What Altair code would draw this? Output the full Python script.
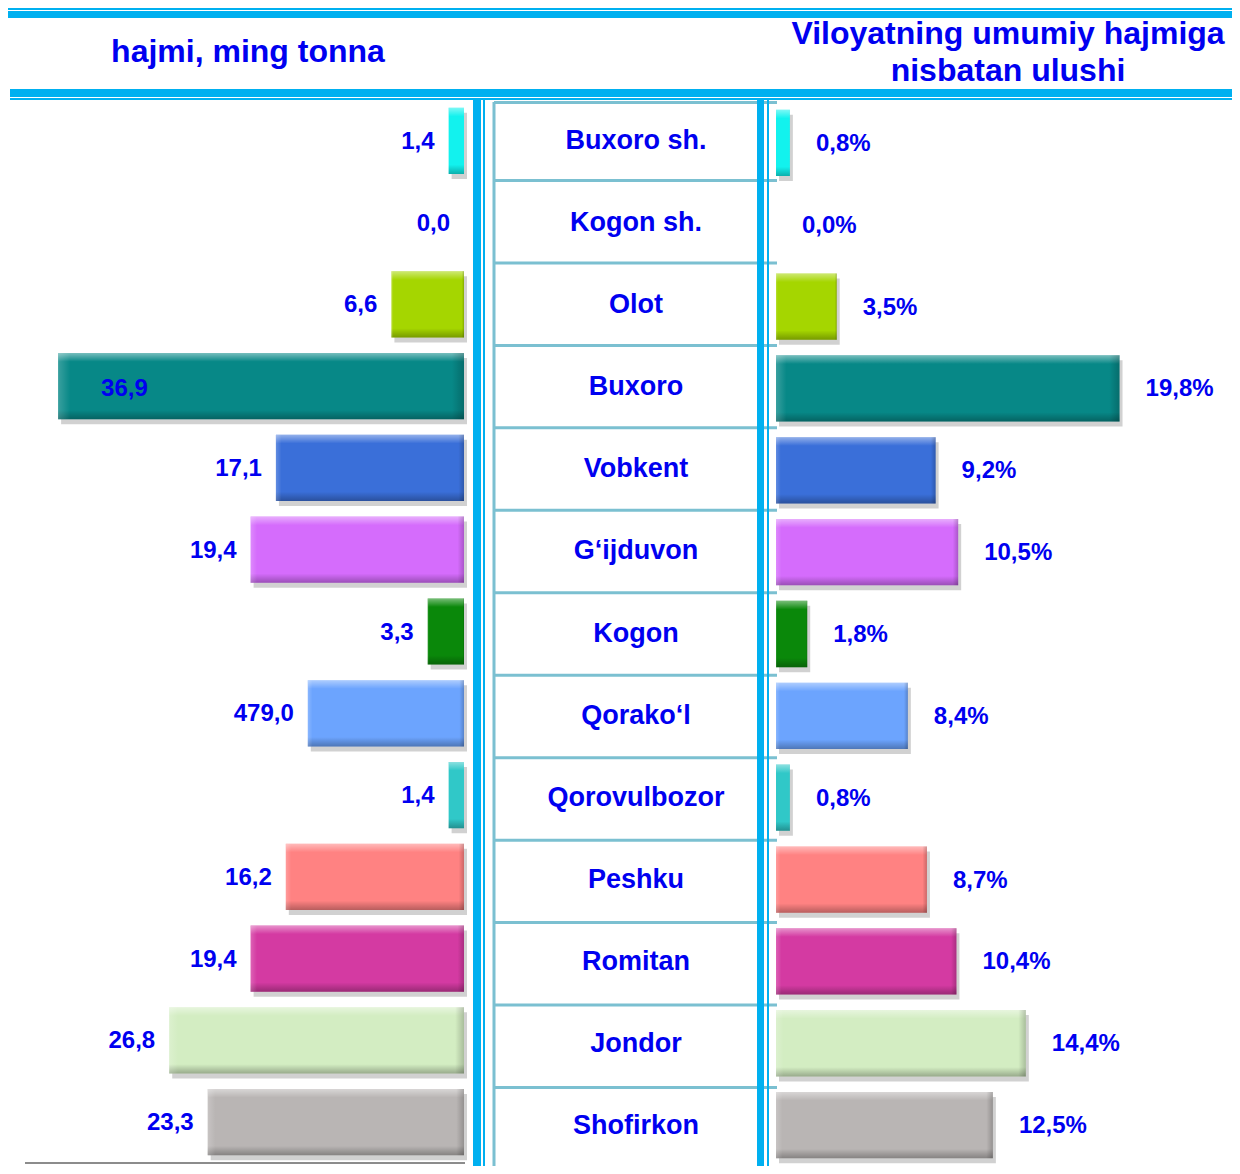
import altair as alt
import pandas as pd

# ---------------- data ----------------
districts = ["Buxoro sh.", "Kogon sh.", "Olot", "Buxoro", "Vobkent", "G‘ijduvon", "Kogon",
             "Qorako‘l", "Qorovulbozor", "Peshku", "Romitan", "Jondor", "Shofirkon"]
volume_values = [1.4, 0.0, 6.6, 36.9, 17.1, 19.4, 3.3, 14.2, 1.4, 16.2, 19.4, 26.8, 23.3]
volume_labels = ["1,4", "0,0", "6,6", "36,9", "17,1", "19,4", "3,3", "479,0", "1,4",
                 "16,2", "19,4", "26,8", "23,3"]
share_values = [0.8, 0.0, 3.5, 19.8, 9.2, 10.5, 1.8, 7.6, 0.8, 8.7, 10.4, 14.4, 12.5]
share_labels = ["0,8%", "0,0%", "3,5%", "19,8%", "9,2%", "10,5%", "1,8%", "8,4%", "0,8%",
                "8,7%", "10,4%", "14,4%", "12,5%"]
bar_colors = ["#12F2EE", "#12F2EE", "#A5D600", "#078887", "#3A6FD9", "#D56CFC", "#0A880A",
              "#6CA4FE", "#30C8C8", "#FF8282", "#D43AA2", "#D3EDC2", "#B9B5B4"]
left_title = "hajmi, ming tonna"
right_title = ["Viloyatning umumiy hajmiga", "nisbatan ulushi"]

df = pd.DataFrame({
    "district": districts,
    "vol": volume_values,
    "vol_label": volume_labels,
    "share": share_values,
    "share_label": share_labels,
    "idx": list(range(len(districts))),
})
df["mid"] = df["idx"] + 0.5
df["inside"] = df["vol"] > 30
bounds = pd.DataFrame({"b": list(range(1, len(districts) + 1))})
dummy = pd.DataFrame({"k": [0]})

W, H = 1224, 1158
FONT = "Liberation Sans"
BLUE_TXT = "#0000F0"
LINE = "#00B0F0"
GRID = "#7BC0D1"

yl = alt.Scale(domain=districts, range=[92, 1155], paddingInner=0.19, paddingOuter=0.095)
yr = alt.Scale(domain=districts, range=[94, 1158], paddingInner=0.19, paddingOuter=0.095)
xl = alt.Scale(domain=[0, 40], range=[456, 16], nice=False, zero=True)
xr = alt.Scale(domain=[0, 20], range=[768, 1115], nice=False, zero=True)
ym = alt.Scale(domain=[0, len(districts)], range=[90, 1162], nice=False, zero=False)
ymt = alt.Scale(domain=[0, len(districts)], range=[92, 1159], nice=False, zero=False)
col = alt.Color("district:N", scale=alt.Scale(domain=districts, range=bar_colors), legend=None)

vgrad = alt.Gradient(gradient="linear", x1=0, x2=0, y1=0, y2=1, stops=[
    alt.GradientStop(color="rgba(255,255,255,0.45)", offset=0),
    alt.GradientStop(color="rgba(255,255,255,0)", offset=0.13),
    alt.GradientStop(color="rgba(0,0,0,0)", offset=0.86),
    alt.GradientStop(color="rgba(0,0,0,0.28)", offset=1),
])
hgrad = alt.Gradient(gradient="linear", x1=0, x2=1, y1=0, y2=0, stops=[
    alt.GradientStop(color="rgba(255,255,255,0.2)", offset=0),
    alt.GradientStop(color="rgba(255,255,255,0)", offset=0.03),
    alt.GradientStop(color="rgba(0,0,0,0)", offset=0.97),
    alt.GradientStop(color="rgba(0,0,0,0.2)", offset=1),
])

base = alt.Chart(df)


def bars(field, xs, ys):
    enc = dict(x=alt.X(f"{field}:Q", scale=xs, axis=None), x2=alt.datum(0),
               y=alt.Y("district:N", scale=ys, axis=None))
    shadow = base.mark_bar(color="#000000", opacity=0.18, xOffset=3, x2Offset=3, yOffset=5).encode(**enc)
    main = base.mark_bar().encode(color=col, **enc)
    g1 = base.mark_bar(color=vgrad).encode(**enc)
    g2 = base.mark_bar(color=hgrad).encode(**enc)
    return [shadow, main, g1, g2]


left_bars = bars("vol", xl, yl)
right_bars = bars("share", xr, yr)

lbl_kw = dict(font=FONT, fontWeight="bold", fontSize=24, color=BLUE_TXT, baseline="middle")
left_out = base.transform_filter("!datum.inside").mark_text(align="right", dx=-14, dy=1, **lbl_kw).encode(
    x=alt.X("vol:Q", scale=xl, axis=None), y=alt.Y("district:N", scale=yl, axis=None), text="vol_label:N")
left_in = base.transform_filter("datum.inside").mark_text(align="left", dx=43, dy=3, **lbl_kw).encode(
    x=alt.X("vol:Q", scale=xl, axis=None), y=alt.Y("district:N", scale=yl, axis=None), text="vol_label:N")
right_lbl = base.mark_text(align="left", dx=26, dy=1, **lbl_kw).encode(
    x=alt.X("share:Q", scale=xr, axis=None), y=alt.Y("district:N", scale=yr, axis=None), text="share_label:N")

# middle table
rows = alt.Chart(bounds).mark_rule(color=GRID, strokeWidth=3).encode(
    x=alt.value(486), x2=alt.value(769), y=alt.Y("b:Q", scale=ym, axis=None))
box_top = alt.Chart(dummy).mark_rule(color=GRID, strokeWidth=3).encode(
    x=alt.value(486), x2=alt.value(769), y=alt.value(94.5))
box_left = alt.Chart(dummy).mark_rule(color=GRID, strokeWidth=3).encode(
    x=alt.value(486), y=alt.value(94), y2=alt.value(H))
mid_text = base.mark_text(font=FONT, fontWeight="bold", fontSize=27, color=BLUE_TXT,
                          baseline="middle").encode(
    x=alt.value(628), y=alt.Y("mid:Q", scale=ymt, axis=None), text="district:N")


def rect(x1, x2, y1, y2, color):
    return alt.Chart(dummy).mark_rect(color=color).encode(
        x=alt.value(x1), x2=alt.value(x2), y=alt.value(y1), y2=alt.value(y2))


decor = [
    rect(0, W, 0, 2, LINE), rect(0, W, 3, 10, LINE),          # top lines
    rect(2, W, 81, 89, LINE), rect(2, W, 90, 92, LINE),        # lines under header
    rect(465, 473, 91, H, LINE), rect(475, 477, 91, H, LINE),  # left separators
    rect(749, 756, 91, H, LINE), rect(759, 761, 91, H, LINE),  # right separators
]
bottom_rule = alt.Chart(dummy).mark_rule(color="#8C8C8C", strokeWidth=2).encode(
    x=alt.value(17), x2=alt.value(457), y=alt.value(1155))

title_kw = dict(font=FONT, fontWeight="bold", color=BLUE_TXT, baseline="middle", align="center")
t_left = alt.Chart(dummy).mark_text(fontSize=32, text=left_title, **title_kw).encode(
    x=alt.value(240), y=alt.value(44))
t_r1 = alt.Chart(dummy).mark_text(fontSize=32, text=right_title[0], **title_kw).encode(
    x=alt.value(1000), y=alt.value(26))
t_r2 = alt.Chart(dummy).mark_text(fontSize=32, text=right_title[1], **title_kw).encode(
    x=alt.value(1000), y=alt.value(63))

layers = (left_bars + right_bars + [rows, box_top, box_left, mid_text] + decor +
          [bottom_rule, left_out, left_in, right_lbl, t_left, t_r1, t_r2])

chart = alt.layer(*layers).resolve_scale(x="independent", y="independent", color="shared").properties(
    width=W, height=H, autosize=alt.AutoSizeParams(type="none"), padding=0, background="white"
).configure_view(stroke=None)

chart.save("out.html", embed_options={"renderer": "svg", "actions": False})
